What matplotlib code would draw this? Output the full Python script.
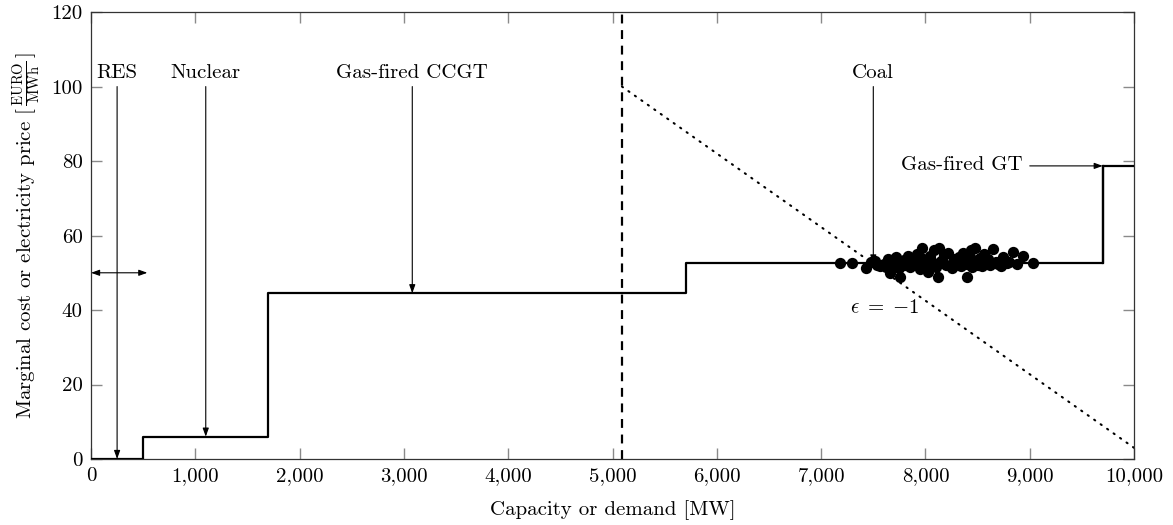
import matplotlib
matplotlib.use("Agg")
import matplotlib.pyplot as plt
from matplotlib.ticker import FuncFormatter, MultipleLocator

plt.rcParams['font.family'] = ['cmr10', 'DejaVu Serif']
plt.rcParams['mathtext.fontset'] = 'cm'
plt.rcParams['axes.formatter.use_mathtext'] = True

# Merit-order supply curve (step edges and levels)
step_x = [0, 500, 1700, 5700, 9700, 10000]
step_y = [0, 6, 44.5, 52.5, 78.7, 78.7]

# Demand line
demand_x = 5090
demand_line_x = [5090, 10000]
demand_line_y = [100, 3]

# Observed market outcomes
obs_x = [7180, 7300, 7430, 7480, 7520, 7560, 7600, 7640, 7660, 7700, 7720, 7750,
         7760, 7790, 7800, 7830, 7850, 7880, 7900, 7920, 7950, 7970, 7980, 8000,
         8025, 8040, 8060, 8080, 8100, 8121, 8130, 8150, 8180, 8200, 8220, 8250,
         8270, 8300, 8320, 8340, 8360, 8380, 8399, 8400, 8420, 8440, 8460, 8476,
         8500, 8520, 8540, 8560, 8580, 8600, 8620, 8648, 8680, 8700, 8740, 8780,
         8840, 8880, 8936, 9032, 7540, 7620, 7680, 7860, 7940, 8010, 8170, 8280,
         8450, 8610, 8720, 8800]
obs_y = [52.6, 52.6, 51.3, 52.8, 53.2, 51.8, 52.4, 53.6, 49.9, 52.0, 54.2, 51.2,
         48.9, 53.4, 52.2, 54.6, 51.6, 53.0, 52.4, 55.0, 51.0, 56.6, 53.8, 52.0,
         50.2, 54.4, 52.8, 56.0, 51.6, 48.9, 56.6, 53.2, 54.8, 52.2, 55.4, 51.4,
         53.6, 52.6, 54.2, 51.8, 55.2, 53.0, 48.9, 52.4, 54.8, 56.2, 53.4, 56.6,
         52.0, 54.0, 51.8, 55.0, 52.6, 53.6, 52.2, 56.4, 53.0, 52.4, 54.2, 52.6,
         55.6, 52.4, 54.5, 52.5, 52.2, 51.6, 53.0, 52.8, 53.4, 51.8, 52.6, 52.0,
         51.6, 52.8, 51.8, 52.8]

# Annotations: label, text position, arrow target
labels = ["RES", "Nuclear", "Gas-fired CCGT", "Coal"]
label_x = [250, 1100, 3080, 7500]
target_y = [0, 6, 44.5, 52.5]

FS = 15

fig = plt.figure(figsize=(11.73, 5.25), dpi=100)
ax = fig.add_axes([0.0776, 0.1257, 0.8892, 0.8513])

ax.step(step_x, step_y, where='post', color='black', lw=1.6, zorder=3)
ax.plot([step_x[-2], step_x[-2]], [step_y[-3], step_y[-2]], color='black', lw=1.6)
ax.axvline(demand_x, color='black', lw=1.6, ls=(0, (4, 3)), zorder=2)
ax.plot(demand_line_x, demand_line_y, color='black', lw=1.5, ls=(0, (0.6, 3.2)),
        dash_capstyle='round', zorder=2)
ax.scatter(obs_x, obs_y, s=66, color='black', zorder=4, linewidths=0)

ap = dict(arrowstyle='-|>,head_length=0.5,head_width=0.18', color='black', lw=0.8,
          shrinkA=0, shrinkB=0)
for lab, lx, ty in zip(labels, label_x, target_y):
    ax.annotate('', xy=(lx, ty), xytext=(lx, 100), arrowprops=ap, zorder=5)
    ax.text(lx, 101.3, lab, ha='center', va='bottom', fontsize=FS)

ax.annotate('', xy=(9700, 78.7), xytext=(9000, 78.7), arrowprops=ap, zorder=5)
ax.text(8930, 78.9, 'Gas-fired GT', ha='right', va='center', fontsize=FS)

ap2 = dict(arrowstyle='<|-|>,head_length=0.5,head_width=0.18', color='black', lw=0.8,
           shrinkA=0, shrinkB=0)
ax.annotate('', xy=(0, 50), xytext=(540, 50), arrowprops=ap2, zorder=5)

ax.text(7610, 40.5, r'$\epsilon\;=\;{-}1$', ha='center', va='center', fontsize=FS)

ax.set_xlim(0, 10000)
ax.set_ylim(0, 120)
ax.xaxis.set_major_locator(MultipleLocator(1000))
ax.yaxis.set_major_locator(MultipleLocator(20))
ax.xaxis.set_major_formatter(FuncFormatter(lambda v, p: f"{v:,.0f}"))
ax.yaxis.set_major_formatter(FuncFormatter(lambda v, p: f"{v:.0f}"))
ax.tick_params(direction='in', length=8, width=1.0, color='#8a8a8a',
               top=True, right=True, labelsize=FS, pad=6)
for sp in ax.spines.values():
    sp.set_color('#333333')
    sp.set_linewidth(0.9)

ax.set_xlabel('Capacity or demand [MW]', fontsize=FS, labelpad=11)
ax.set_ylabel(r'Marginal cost or electricity price [$\,\frac{\mathrm{EURO}}{\mathrm{MWh}}\,$]',
              fontsize=FS, labelpad=6)

fig.savefig('out.png', dpi=100)
